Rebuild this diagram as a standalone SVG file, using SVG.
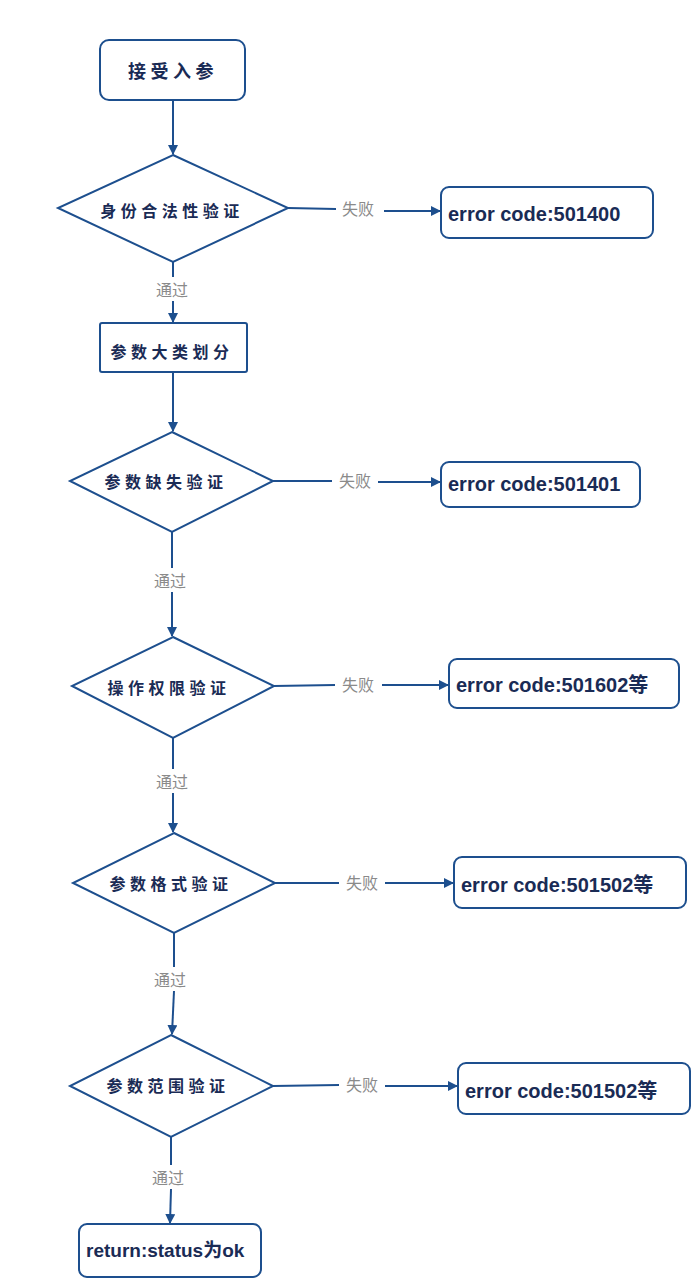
<svg xmlns="http://www.w3.org/2000/svg" width="694" height="1286" viewBox="0 0 694 1286">
<defs>
<style>
.shape{fill:#fff;stroke:#1d4f8e;stroke-width:2}
.conn{fill:none;stroke:#1d4f8e;stroke-width:2}
.t{font-family:"Noto Sans CJK SC","Liberation Sans",sans-serif;font-weight:bold;fill:#1a2b55;font-size:16px;letter-spacing:4.5px;text-anchor:middle;dominant-baseline:central}
.e{font-family:"Liberation Sans","Noto Sans CJK SC",sans-serif;font-weight:bold;fill:#1a2b55;font-size:20px;dominant-baseline:central}
.l{font-family:"Noto Sans CJK SC","Liberation Sans",sans-serif;fill:#8a8a8a;font-size:16px;text-anchor:middle;dominant-baseline:central}
</style>
<marker id="arr" viewBox="0 0 10 10" refX="9" refY="5" markerWidth="5" markerHeight="5" orient="auto">
<path d="M0,0 L10,5 L0,10 z" fill="#1d4f8e"/>
</marker>
</defs>
<rect width="694" height="1286" fill="#fff"/>
<g id="connectors">
<path class="conn" d="M173,100 L173,154" marker-end="url(#arr)"/>
<path class="conn" d="M288,208 L336,209"/>
<path class="conn" d="M384,211 L440,211" marker-end="url(#arr)"/>
<path class="conn" d="M173,262 L173,277"/>
<path class="conn" d="M173,301 L173,322" marker-end="url(#arr)"/>
<path class="conn" d="M173,372 L173,431" marker-end="url(#arr)"/>
<path class="conn" d="M273,481 L332,481"/>
<path class="conn" d="M378,482 L440,482" marker-end="url(#arr)"/>
<path class="conn" d="M172,532 L172,568"/>
<path class="conn" d="M172,592 L172,636" marker-end="url(#arr)"/>
<path class="conn" d="M274,686 L335,685"/>
<path class="conn" d="M382,685 L448,685" marker-end="url(#arr)"/>
<path class="conn" d="M173,738 L173,769"/>
<path class="conn" d="M173,793 L173,832" marker-end="url(#arr)"/>
<path class="conn" d="M275,883 L339,883"/>
<path class="conn" d="M385,883 L453,883" marker-end="url(#arr)"/>
<path class="conn" d="M174,933 L174,967"/>
<path class="conn" d="M174,991 L172,1034" marker-end="url(#arr)"/>
<path class="conn" d="M273,1086 L339,1085"/>
<path class="conn" d="M385,1086 L457,1086" marker-end="url(#arr)"/>
<path class="conn" d="M171,1137 L171,1165"/>
<path class="conn" d="M171,1189 L170,1223" marker-end="url(#arr)"/>
<text class="l" x="358" y="208">失败</text>
<text class="l" x="172" y="289">通过</text>
<text class="l" x="355" y="480">失败</text>
<text class="l" x="170" y="580">通过</text>
<text class="l" x="358" y="684">失败</text>
<text class="l" x="172" y="781">通过</text>
<text class="l" x="362" y="882">失败</text>
<text class="l" x="170" y="979">通过</text>
<text class="l" x="362" y="1084">失败</text>
<text class="l" x="168" y="1177">通过</text>
</g>
<g id="start">
<rect class="shape" x="100" y="40" width="145" height="60" rx="9"/>
<text class="t" x="173" y="70" style="font-size:18px">接受入参</text>
</g>
<g id="d1">
<polygon class="shape" points="173,155 288,208 173,262 58,208"/>
<text class="t" x="172" y="210">身份合法性验证</text>
</g>
<g id="err1">
<rect class="shape" x="441" y="187" width="212" height="51" rx="8"/>
<text class="e" x="448" y="214">error code:501400</text>
</g>
<g id="split">
<rect class="shape" x="100" y="323" width="147" height="49" rx="2"/>
<text class="t" x="172" y="351">参数大类划分</text>
</g>
<g id="d2">
<polygon class="shape" points="172,432 273,481 172,532 70,481"/>
<text class="t" x="166" y="481">参数缺失验证</text>
</g>
<g id="err2">
<rect class="shape" x="441" y="462" width="199" height="45" rx="8"/>
<text class="e" x="448" y="484">error code:501401</text>
</g>
<g id="d3">
<polygon class="shape" points="173,637 274,686 173,738 72,686"/>
<text class="t" x="169" y="687">操作权限验证</text>
</g>
<g id="err3">
<rect class="shape" x="449" y="659" width="230" height="49" rx="8"/>
<text class="e" x="456" y="685">error code:501602等</text>
</g>
<g id="d4">
<polygon class="shape" points="174,833 275,883 174,933 73,883"/>
<text class="t" x="171" y="883">参数格式验证</text>
</g>
<g id="err4">
<rect class="shape" x="454" y="857" width="232" height="51" rx="8"/>
<text class="e" x="461" y="885">error code:501502等</text>
</g>
<g id="d5">
<polygon class="shape" points="171,1035 273,1086 171,1137 70,1086"/>
<text class="t" x="168" y="1085">参数范围验证</text>
</g>
<g id="err5">
<rect class="shape" x="458" y="1063" width="232" height="51" rx="8"/>
<text class="e" x="465" y="1091">error code:501502等</text>
</g>
<g id="end">
<rect class="shape" x="79" y="1224" width="182" height="53" rx="8"/>
<text class="e" x="86" y="1250" style="font-size:19px">return:status为ok</text>
</g>
</svg>
